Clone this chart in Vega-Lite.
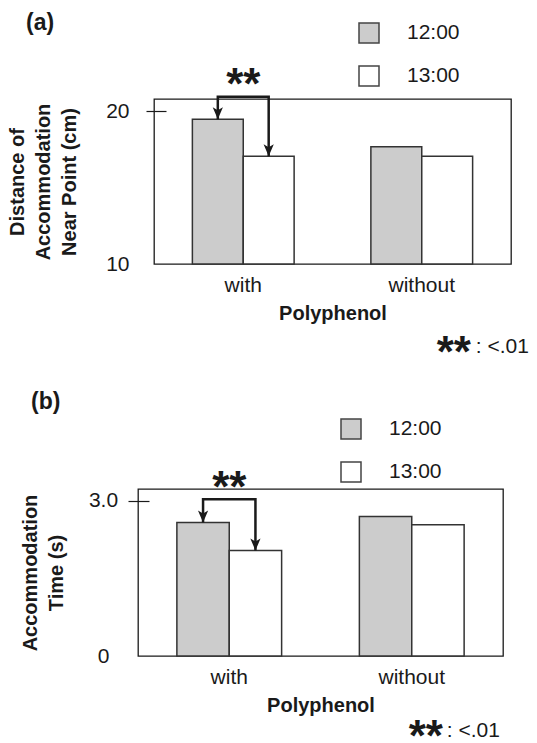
{
  "$schema": "https://vega.github.io/schema/vega-lite/v6.json",
  "padding": {"left": 6, "top": 11, "right": 0, "bottom": 0},
  "config": {
    "font": "Liberation Sans",
    "view": {"stroke": "#1a1a1a", "strokeWidth": 1.3},
    "axis": {"grid": false, "labelColor": "#1a1a1a", "titleColor": "#1a1a1a"},
    "legend": {"labelColor": "#1a1a1a"},
    "title": {"color": "#1a1a1a"}
  },
  "datasets": {
    "spacer": [{"s": ""}],
    "a_bars": [
      {"p": "with", "time": "12:00", "v": 19.48},
      {"p": "with", "time": "13:00", "v": 17.05},
      {"p": "without", "time": "12:00", "v": 17.68},
      {"p": "without", "time": "13:00", "v": 17.05}
    ],
    "a_bracket": [
      {"p": "with", "time": "12:00", "v": 19.48, "step": 1},
      {"p": "with", "time": "12:00", "v": 20.95, "step": 2},
      {"p": "with", "time": "13:00", "v": 20.95, "step": 3},
      {"p": "with", "time": "13:00", "v": 17.05, "step": 4}
    ],
    "a_arrows": [
      {"p": "with", "time": "12:00", "v": 19.48},
      {"p": "with", "time": "13:00", "v": 17.05}
    ],
    "a_star": [{"p": "with", "v": 22.0, "label": "**"}],
    "a_note": [{"p": "without", "v": 4.55, "stars": "**", "rest": ": <.01"}],
    "b_bars": [
      {"p": "with", "time": "12:00", "v": 2.58},
      {"p": "with", "time": "13:00", "v": 2.04},
      {"p": "without", "time": "12:00", "v": 2.70},
      {"p": "without", "time": "13:00", "v": 2.54}
    ],
    "b_bracket": [
      {"p": "with", "time": "12:00", "v": 2.58, "step": 1},
      {"p": "with", "time": "12:00", "v": 3.03, "step": 2},
      {"p": "with", "time": "13:00", "v": 3.03, "step": 3},
      {"p": "with", "time": "13:00", "v": 2.04, "step": 4}
    ],
    "b_arrows": [
      {"p": "with", "time": "12:00", "v": 2.58},
      {"p": "with", "time": "13:00", "v": 2.04}
    ],
    "b_star": [{"p": "with", "v": 3.33, "label": "**"}],
    "b_note": [{"p": "without", "v": -1.45, "stars": "**", "rest": ": <.01"}]
  },
  "concat": [
    {
      "title": {"text": "(a)", "anchor": "start", "frame": "group", "dx": -128, "fontSize": 23, "fontWeight": "bold", "offset": -13},
      "width": 357,
      "height": 165,
      "layer": [
        {
          "data": {"name": "a_bars"},
          "mark": {"type": "bar", "stroke": "#333333", "strokeWidth": 1.5},
          "encoding": {
            "x": {"field": "p", "type": "nominal", "title": "Polyphenol",
              "scale": {"paddingInner": 0.43, "paddingOuter": 0.215},
              "axis": {"labelAngle": 0, "ticks": false, "domain": false, "labelFontSize": 21, "labelPadding": 10, "titleFontSize": 20, "titleFontWeight": "bold", "titlePadding": 8}},
            "xOffset": {"field": "time", "type": "nominal", "scale": {"paddingInner": 0, "paddingOuter": 0}},
            "y": {"field": "v", "type": "quantitative", "title": ["Distance of", "Accommodation", "Near Point (cm)"],
              "scale": {"domain": [10, 20.8], "nice": false, "zero": false},
              "axis": {"values": [10, 20], "domain": false, "tickSize": 20, "offset": -12, "tickColor": "#1a1a1a", "tickWidth": 1.2,
                "tickOpacity": {"condition": {"test": "datum.value === 20", "value": 1}, "value": 0},
                "labelFontSize": 21, "labelPadding": 17, "titleFontSize": 20, "titleFontWeight": "bold", "titleLineHeight": 26, "titlePadding": 26}},
            "y2": {"datum": 10},
            "color": {"field": "time", "type": "nominal", "scale": {"domain": ["12:00", "13:00"], "range": ["#cccccc", "#ffffff"]},
              "legend": {"orient": "none", "legendX": 204, "legendY": -77, "title": null, "symbolType": "square", "symbolSize": 400, "symbolStrokeColor": "#444444", "symbolStrokeWidth": 1.5, "labelFontSize": 21, "labelOffset": 27, "rowPadding": 17, "padding": 0}}
          }
        },
        {
          "data": {"name": "a_bracket"},
          "mark": {"type": "line", "color": "#1a1a1a", "strokeWidth": 2.5, "strokeCap": "butt"},
          "encoding": {
            "x": {"field": "p", "type": "nominal"},
            "xOffset": {"field": "time", "type": "nominal"},
            "y": {"field": "v", "type": "quantitative"},
            "order": {"field": "step", "type": "quantitative"}
          }
        },
        {
          "data": {"name": "a_arrows"},
          "mark": {"type": "point", "shape": "M0,1L-0.85,-1L0,-0.5L0.85,-1Z", "filled": true, "color": "#1a1a1a", "opacity": 1, "size": 144, "yOffset": -6},
          "encoding": {
            "x": {"field": "p", "type": "nominal"},
            "xOffset": {"field": "time", "type": "nominal"},
            "y": {"field": "v", "type": "quantitative"}
          }
        },
        {
          "data": {"name": "a_star"},
          "mark": {"type": "text", "fontSize": 44, "fontWeight": "bold", "baseline": "middle", "dy": 5, "color": "#1a1a1a"},
          "encoding": {
            "x": {"field": "p", "type": "nominal"},
            "y": {"field": "v", "type": "quantitative"},
            "text": {"field": "label"}
          }
        },
        {
          "data": {"name": "a_note"},
          "mark": {"type": "text", "fontSize": 44, "fontWeight": "bold", "align": "left", "baseline": "middle", "dx": 15, "dy": 7, "color": "#1a1a1a"},
          "encoding": {
            "x": {"field": "p", "type": "nominal"},
            "y": {"field": "v", "type": "quantitative"},
            "text": {"field": "stars"}
          }
        },
        {
          "data": {"name": "a_note"},
          "mark": {"type": "text", "fontSize": 21, "align": "left", "baseline": "middle", "dx": 54, "color": "#1a1a1a"},
          "encoding": {
            "x": {"field": "p", "type": "nominal"},
            "y": {"field": "v", "type": "quantitative"},
            "text": {"field": "rest"}
          }
        }
      ]
    },
    {
      "data": {"name": "spacer"},
      "width": 1,
      "height": 1,
      "view": {"stroke": null, "fill": null},
      "mark": {"type": "text"},
      "encoding": {"text": {"field": "s"}}
    },
    {
      "data": {"name": "spacer"},
      "width": 1,
      "height": 1,
      "view": {"stroke": null, "fill": null},
      "mark": {"type": "text"},
      "encoding": {"text": {"field": "s"}}
    },
    {
      "title": {"text": "(b)", "anchor": "start", "frame": "group", "dx": -107, "fontSize": 23, "fontWeight": "bold", "offset": 4},
      "width": 365,
      "height": 167,
      "layer": [
        {
          "data": {"name": "b_bars"},
          "mark": {"type": "bar", "stroke": "#333333", "strokeWidth": 1.5},
          "encoding": {
            "x": {"field": "p", "type": "nominal", "title": "Polyphenol",
              "scale": {"paddingInner": 0.426, "paddingOuter": 0.213},
              "axis": {"labelAngle": 0, "ticks": false, "domain": false, "labelFontSize": 21, "labelPadding": 10, "titleFontSize": 20, "titleFontWeight": "bold", "titlePadding": 8}},
            "xOffset": {"field": "time", "type": "nominal", "scale": {"paddingInner": 0, "paddingOuter": 0}},
            "y": {"field": "v", "type": "quantitative", "title": ["Accommodation", "Time (s)"],
              "scale": {"domain": [0, 3.23], "nice": false, "zero": false},
              "axis": {"values": [0, 3], "labelExpr": "datum.value === 3 ? '3.0' : '0'", "domain": false, "tickSize": 21, "offset": -11, "tickColor": "#1a1a1a", "tickWidth": 1.2,
                "tickOpacity": {"condition": {"test": "datum.value === 3", "value": 1}, "value": 0},
                "labelAlign": "center", "labelFontSize": 21, "labelPadding": 25, "titleFontSize": 20, "titleFontWeight": "bold", "titleLineHeight": 26, "titlePadding": 22}},
            "y2": {"datum": 0},
            "color": {"field": "time", "type": "nominal", "scale": {"domain": ["12:00", "13:00"], "range": ["#cccccc", "#ffffff"]},
              "legend": {"orient": "none", "legendX": 202, "legendY": -71, "title": null, "symbolType": "square", "symbolSize": 400, "symbolStrokeColor": "#444444", "symbolStrokeWidth": 1.5, "labelFontSize": 21, "labelOffset": 27, "rowPadding": 17, "padding": 0}}
          }
        },
        {
          "data": {"name": "b_bracket"},
          "mark": {"type": "line", "color": "#1a1a1a", "strokeWidth": 2.5, "strokeCap": "butt"},
          "encoding": {
            "x": {"field": "p", "type": "nominal"},
            "xOffset": {"field": "time", "type": "nominal"},
            "y": {"field": "v", "type": "quantitative"},
            "order": {"field": "step", "type": "quantitative"}
          }
        },
        {
          "data": {"name": "b_arrows"},
          "mark": {"type": "point", "shape": "M0,1L-0.85,-1L0,-0.5L0.85,-1Z", "filled": true, "color": "#1a1a1a", "opacity": 1, "size": 144, "yOffset": -6},
          "encoding": {
            "x": {"field": "p", "type": "nominal"},
            "xOffset": {"field": "time", "type": "nominal"},
            "y": {"field": "v", "type": "quantitative"}
          }
        },
        {
          "data": {"name": "b_star"},
          "mark": {"type": "text", "fontSize": 44, "fontWeight": "bold", "baseline": "middle", "dy": 5, "color": "#1a1a1a"},
          "encoding": {
            "x": {"field": "p", "type": "nominal"},
            "y": {"field": "v", "type": "quantitative"},
            "text": {"field": "label"}
          }
        },
        {
          "data": {"name": "b_note"},
          "mark": {"type": "text", "fontSize": 44, "fontWeight": "bold", "align": "left", "baseline": "middle", "dx": -3, "dy": 7, "color": "#1a1a1a"},
          "encoding": {
            "x": {"field": "p", "type": "nominal"},
            "y": {"field": "v", "type": "quantitative"},
            "text": {"field": "stars"}
          }
        },
        {
          "data": {"name": "b_note"},
          "mark": {"type": "text", "fontSize": 21, "align": "left", "baseline": "middle", "dx": 35, "color": "#1a1a1a"},
          "encoding": {
            "x": {"field": "p", "type": "nominal"},
            "y": {"field": "v", "type": "quantitative"},
            "text": {"field": "rest"}
          }
        }
      ]
    }
  ],
  "columns": 2,
  "align": "none",
  "bounds": "flush",
  "center": false,
  "spacing": {"row": 225, "column": -373},
  "resolve": {
    "scale": {"x": "independent", "y": "independent", "xOffset": "independent", "color": "independent"},
    "legend": {"color": "independent"}
  }
}
